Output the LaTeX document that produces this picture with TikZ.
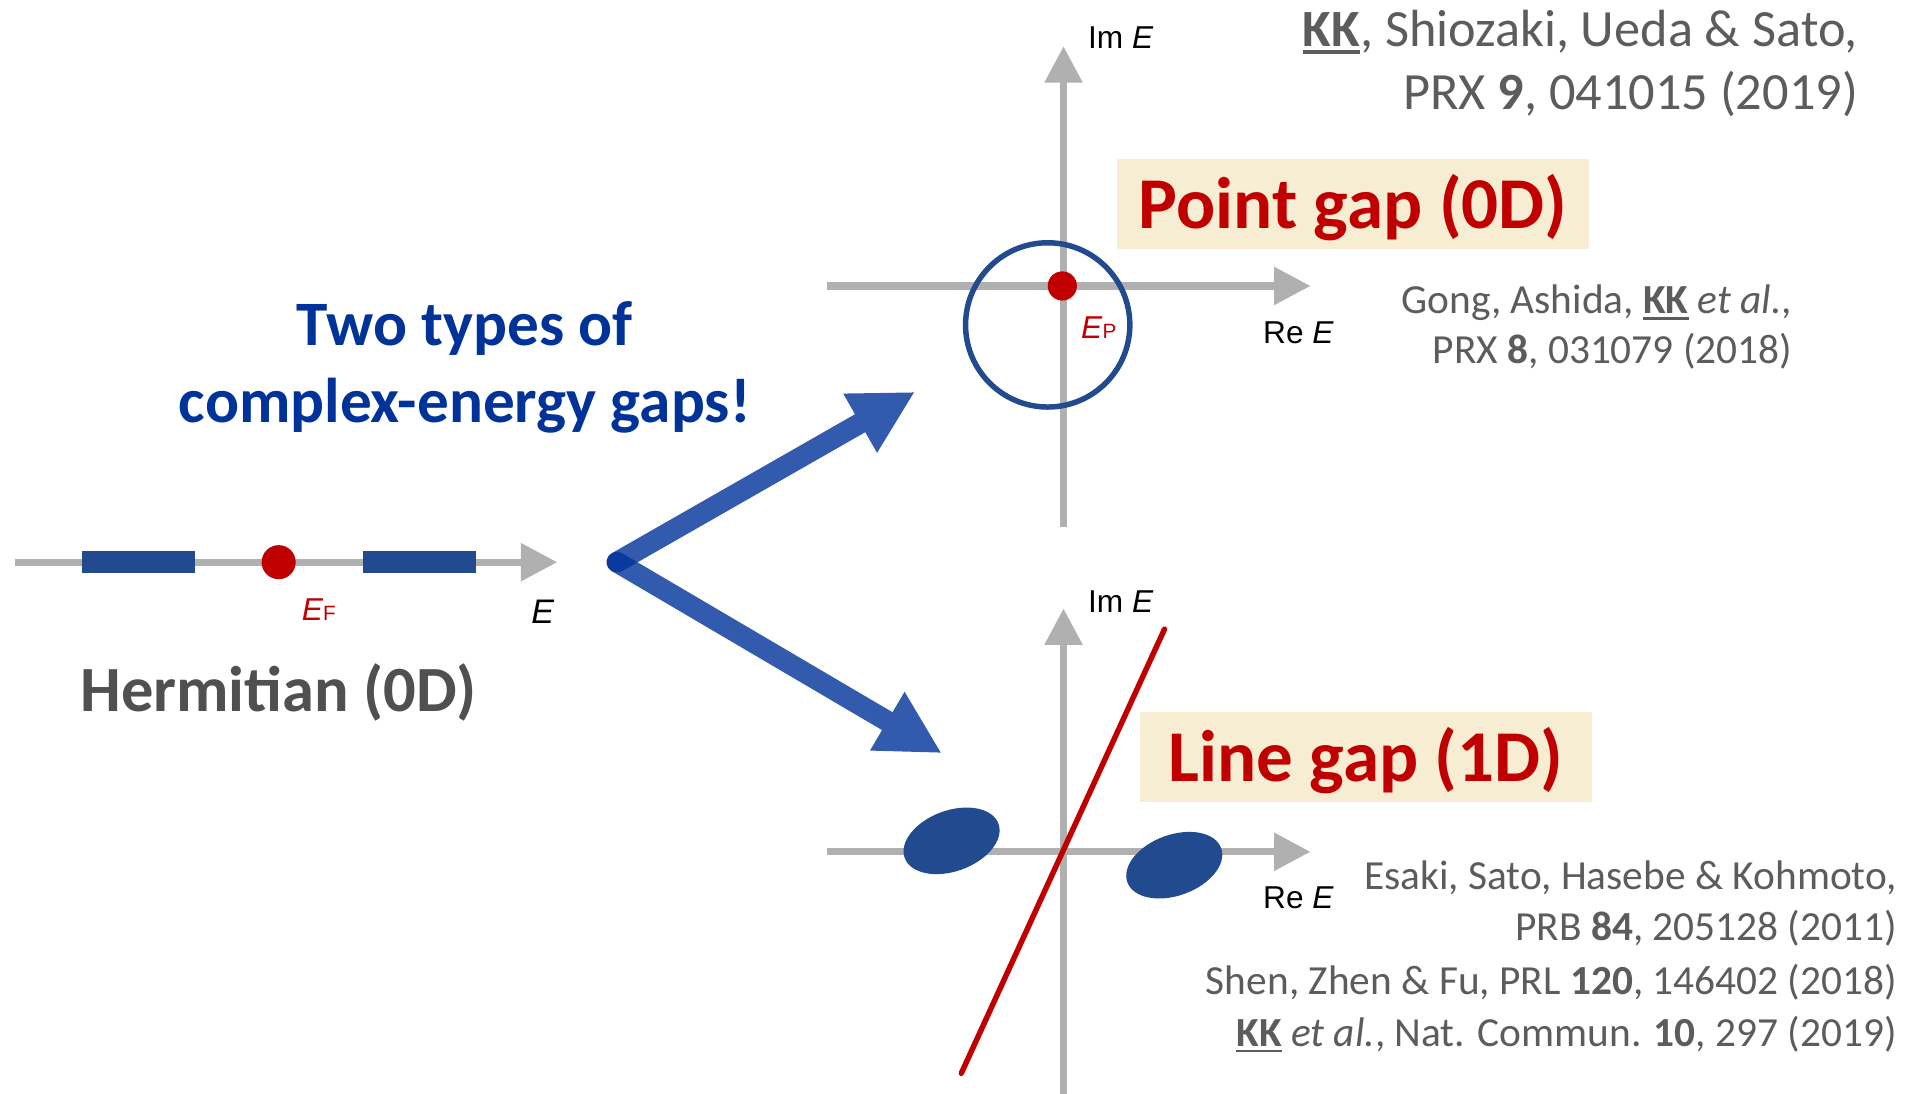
\documentclass[tikz,border=0pt]{standalone}
\usepackage{fontspec}
\setmainfont{Carlito}
\newfontfamily\axfont{Liberation Sans}
\usetikzlibrary{arrows.meta}
\definecolor{axgray}{HTML}{B0B0B0}
\definecolor{bandblue}{HTML}{224A8F}
\definecolor{gapred}{HTML}{C00000}
\definecolor{boxbeige}{HTML}{F7EDD3}
\definecolor{refgray}{HTML}{5C5C5C}
\definecolor{hermgray}{HTML}{505050}
\definecolor{titleblue}{HTML}{003399}
\definecolor{arrowblue}{RGB}{0,50,153}
\newcommand\kkul{\leavevmode\setbox0\hbox{\bfseries KK}\rlap{\rule[-0.14em]{\wd0}{0.065em}}\box0}
\tikzset{
  axis/.style={draw=axgray, line width=6pt, -{Triangle[length=30pt,width=30pt]}},
  band/.style={fill=bandblue, draw=none, minimum width=93pt, minimum height=18pt, inner sep=0pt},
  reddot/.style={circle, fill=gapred, draw=none, inner sep=0pt},
  bigarrow/.style={draw=arrowblue, line width=17pt, line cap=round, -{Triangle[length=52pt,width=52pt]}},
  gapbox/.style={fill=boxbeige, inner sep=0pt, text height=57pt, text depth=17pt, text=gapred, anchor=base, font={\fontsize{60}{72}\selectfont\bfseries}},
  ref/.style={text=refgray, inner sep=0pt, anchor=base east},
  smallref/.style={ref, font={\fontsize{34}{40}\selectfont}},
  bigref/.style={ref, font={\fontsize{43}{50}\selectfont}},
  axlabel/.style={inner sep=0pt, anchor=base, font={\axfont\fontsize{26}{30}\selectfont}},
  title/.style={text=titleblue, inner sep=0pt, anchor=base, font={\fontsize{52}{60}\selectfont\bfseries}},
}
\begin{document}
\begin{tikzpicture}[x=1pt, y=-1pt]
\useasboundingbox (0,0) rectangle (1568,899);

% ---------- Hermitian (left) ----------
\coordinate (hL) at (12,462);
\coordinate (hR) at (458,462);
\draw[axis] (hL) -- (hR);
\node[band] (b1) at (113.5,462) {};
\node[band] (b2) at (344.5,462) {};
\node[reddot, minimum size=28pt] (ef) at (229,462) {};
\node[axlabel, text=gapred] (eflab) at (262,510) {\itshape E\/\upshape\fontsize{17}{20}\selectfont F};
\node[axlabel, font={\axfont\fontsize{28}{32}\selectfont}] (elab) at (446,512) {\itshape E};
\node[inner sep=0pt, anchor=base, text=hermgray, font={\fontsize{53}{60}\selectfont\bfseries}] (herm) at (229,585) {Hermitian (0D)};

% ---------- title ----------
\node[title] (t1) at (382,284) {Two types of};
\node[title] (t2) at (382,347) {complex-energy gaps!};

% ---------- big arrows ----------
\coordinate (fork) at (507,462);
\coordinate (tipU) at (752,322);
\coordinate (tipD) at (774,619);
\begin{scope}[transparency group, opacity=0.8]
\draw[bigarrow] (fork) -- (tipU);
\end{scope}
\begin{scope}[transparency group, opacity=0.8]
\draw[bigarrow] (fork) -- (tipD);
\end{scope}

% ---------- point gap panel ----------
\coordinate (pB) at (874,433);
\coordinate (pT) at (874,38);
\coordinate (pL) at (680,235);
\coordinate (pR) at (1077,235);
\draw[axis] (pB) -- (pT);
\draw[axis] (pL) -- (pR);
\node[circle, draw=bandblue, line width=4.5pt, minimum size=135pt, inner sep=0pt] (loop) at (861,267) {};
\node[reddot, minimum size=24pt] (ep) at (873,235) {};
\node[axlabel, text=gapred] (eplab) at (903,278) {\itshape E\/\upshape\fontsize{17}{20}\selectfont P};
\node[axlabel] (imA) at (921,40) {Im \itshape E};
\node[axlabel] (reA) at (1067,282) {Re \itshape E};
\node[gapbox, minimum width=388pt] (pgap) at (1112,188) {Point gap (0D)};

\node[bigref] (r1a) at (1527,38) {\kkul, Shiozaki, Ueda \& Sato,};
\node[bigref] (r1b) at (1527,90) {PRX \textbf{9}, 041015 (2019)};
\node[smallref] (r2a) at (1473,258) {Gong, Ashida, \kkul\ \textit{et al.},};
\node[smallref] (r2b) at (1473,299) {PRX \textbf{8}, 031079 (2018)};

% ---------- line gap panel ----------
\coordinate (lB) at (874,899);
\coordinate (lT) at (874,500);
\coordinate (lL) at (680,700);
\coordinate (lR) at (1077,700);
\draw[axis] (lB) -- (lT);
\draw[axis] (lL) -- (lR);
\fill[bandblue, rotate around={20:(782,691)}] (782,691) ellipse [x radius=41, y radius=25];
\fill[bandblue, rotate around={20:(965,711)}] (965,711) ellipse [x radius=41, y radius=25];
\coordinate (gl1) at (790,882);
\coordinate (gl2) at (957,517);
\draw[gapred, line width=4.5pt, line cap=round] (gl1) -- (gl2);
\node[axlabel] (imB) at (921,503) {Im \itshape E};
\node[axlabel] (reB) at (1067,747) {Re \itshape E};
\node[gapbox, minimum width=371pt] (lgap) at (1122.5,642) {Line gap (1D)};

\node[smallref] (r3a) at (1559,731) {Esaki, Sato, Hasebe \& Kohmoto,};
\node[smallref] (r3b) at (1559,773) {PRB \textbf{84}, 205128 (2011)};
\node[smallref] (r3c) at (1559,817) {Shen, Zhen \& Fu, PRL \textbf{120}, 146402 (2018)};
\node[smallref] (r3d) at (1559,860) {\kkul\ \textit{et al.}, Nat. Commun. \textbf{10}, 297 (2019)};
\end{tikzpicture}
\end{document}
